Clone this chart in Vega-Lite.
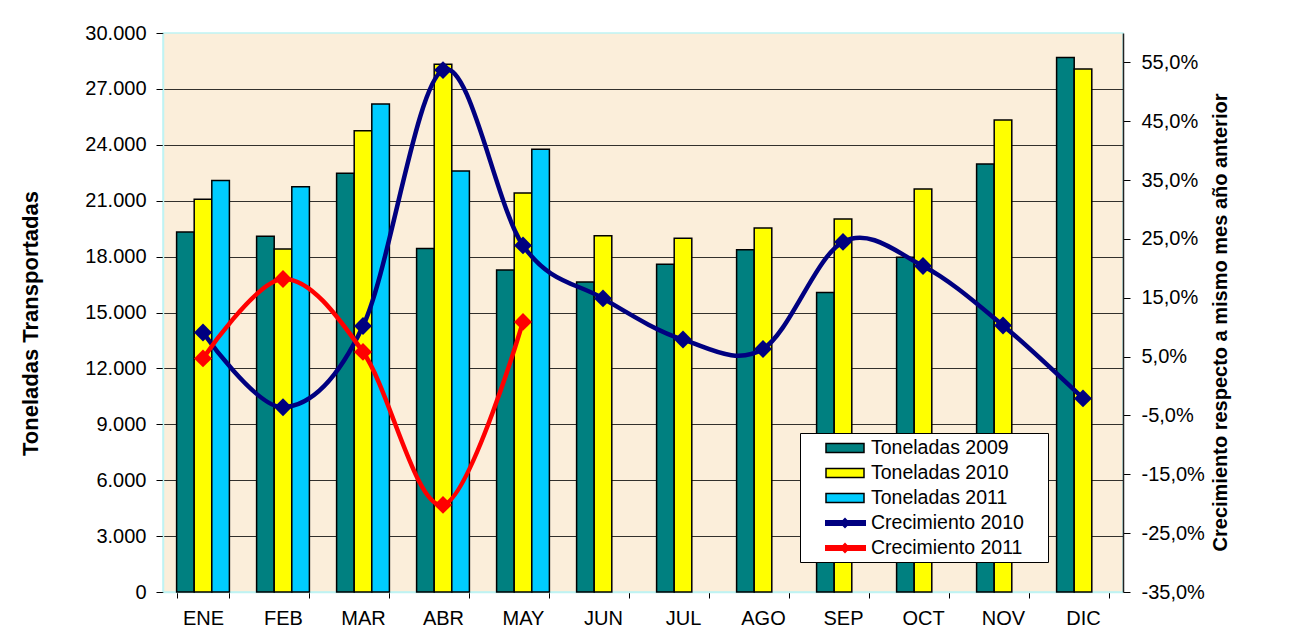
{
  "$schema": "https://vega.github.io/schema/vega-lite/v6.json",
  "width": 960,
  "height": 559,
  "autosize": {"type": "none"},
  "padding": {"left": 163, "top": 33, "right": 178, "bottom": 51},
  "background": "white",
  "config": {
    "font": "Liberation Sans",
    "view": {"fill": "#FBEEDA", "stroke": "#BFF3F3", "strokeWidth": 1.5},
    "axis": {"labelFont": "Liberation Sans", "labelFontSize": 20, "labelColor": "black", "titleFont": "Liberation Sans", "titleColor": "black"}
  },
  "data": {
    "values": [
      {"mes": "ENE", "serie": "Toneladas 2009", "valor": 19320},
      {"mes": "FEB", "serie": "Toneladas 2009", "valor": 19090},
      {"mes": "MAR", "serie": "Toneladas 2009", "valor": 22470},
      {"mes": "ABR", "serie": "Toneladas 2009", "valor": 18430},
      {"mes": "MAY", "serie": "Toneladas 2009", "valor": 17280},
      {"mes": "JUN", "serie": "Toneladas 2009", "valor": 16640},
      {"mes": "JUL", "serie": "Toneladas 2009", "valor": 17590},
      {"mes": "AGO", "serie": "Toneladas 2009", "valor": 18370},
      {"mes": "SEP", "serie": "Toneladas 2009", "valor": 16080},
      {"mes": "OCT", "serie": "Toneladas 2009", "valor": 17960},
      {"mes": "NOV", "serie": "Toneladas 2009", "valor": 22970},
      {"mes": "DIC", "serie": "Toneladas 2009", "valor": 28680},
      {"mes": "ENE", "serie": "Toneladas 2010", "valor": 21080},
      {"mes": "FEB", "serie": "Toneladas 2010", "valor": 18410},
      {"mes": "MAR", "serie": "Toneladas 2010", "valor": 24760},
      {"mes": "ABR", "serie": "Toneladas 2010", "valor": 28320},
      {"mes": "MAY", "serie": "Toneladas 2010", "valor": 21410},
      {"mes": "JUN", "serie": "Toneladas 2010", "valor": 19120},
      {"mes": "JUL", "serie": "Toneladas 2010", "valor": 18980},
      {"mes": "AGO", "serie": "Toneladas 2010", "valor": 19540},
      {"mes": "SEP", "serie": "Toneladas 2010", "valor": 20020},
      {"mes": "OCT", "serie": "Toneladas 2010", "valor": 21630},
      {"mes": "NOV", "serie": "Toneladas 2010", "valor": 25330},
      {"mes": "DIC", "serie": "Toneladas 2010", "valor": 28070},
      {"mes": "ENE", "serie": "Toneladas 2011", "valor": 22080},
      {"mes": "FEB", "serie": "Toneladas 2011", "valor": 21750},
      {"mes": "MAR", "serie": "Toneladas 2011", "valor": 26190},
      {"mes": "ABR", "serie": "Toneladas 2011", "valor": 22600},
      {"mes": "MAY", "serie": "Toneladas 2011", "valor": 23760},
      {"mes": "ENE", "serie": "Crecimiento 2010", "valor": 0.091},
      {"mes": "FEB", "serie": "Crecimiento 2010", "valor": -0.036},
      {"mes": "MAR", "serie": "Crecimiento 2010", "valor": 0.102},
      {"mes": "ABR", "serie": "Crecimiento 2010", "valor": 0.537},
      {"mes": "MAY", "serie": "Crecimiento 2010", "valor": 0.239},
      {"mes": "JUN", "serie": "Crecimiento 2010", "valor": 0.149},
      {"mes": "JUL", "serie": "Crecimiento 2010", "valor": 0.079},
      {"mes": "AGO", "serie": "Crecimiento 2010", "valor": 0.063},
      {"mes": "SEP", "serie": "Crecimiento 2010", "valor": 0.245},
      {"mes": "OCT", "serie": "Crecimiento 2010", "valor": 0.204},
      {"mes": "NOV", "serie": "Crecimiento 2010", "valor": 0.103},
      {"mes": "DIC", "serie": "Crecimiento 2010", "valor": -0.021},
      {"mes": "ENE", "serie": "Crecimiento 2011", "valor": 0.047},
      {"mes": "FEB", "serie": "Crecimiento 2011", "valor": 0.182},
      {"mes": "MAR", "serie": "Crecimiento 2011", "valor": 0.058},
      {"mes": "ABR", "serie": "Crecimiento 2011", "valor": -0.202},
      {"mes": "MAY", "serie": "Crecimiento 2011", "valor": 0.109}
    ]
  },
  "encoding": {
    "x": {
      "field": "mes", "type": "nominal",
      "sort": ["ENE", "FEB", "MAR", "ABR", "MAY", "JUN", "JUL", "AGO", "SEP", "OCT", "NOV", "DIC"],
      "scale": {"paddingInner": 0.34, "paddingOuter": 0.17},
      "axis": {"title": null, "labelAngle": 0, "tickBand": "extent", "tickColor": "black", "tickSize": 6, "domainColor": "#BFF3F3", "domainWidth": 1.5, "labelPadding": 10, "grid": false}
    }
  },
  "layer": [
    {
      "transform": [{"filter": "indexof(datum.serie, 'Toneladas') === 0"}],
      "mark": {"type": "bar", "stroke": "black", "strokeWidth": 1.5},
      "encoding": {
        "xOffset": {
          "field": "serie", "type": "nominal",
          "scale": {"domain": ["Toneladas 2009", "Toneladas 2010", "Toneladas 2011"], "paddingInner": 0, "paddingOuter": 0}
        },
        "y": {
          "field": "valor", "type": "quantitative",
          "scale": {"domain": [0, 30000], "nice": false},
          "axis": {
            "title": "Toneladas Transportadas", "titleFontSize": 22, "titleFontWeight": "bold", "titlePadding": 42, "titleY": 290,
            "values": [0, 3000, 6000, 9000, 12000, 15000, 18000, 21000, 24000, 27000, 30000],
            "labelExpr": "replace(format(datum.value, ','), ',', '.')",
            "tickSize": 7, "tickColor": "black", "domainColor": "#BFF3F3", "domainWidth": 1.5, "labelPadding": 10,
            "grid": true,
            "gridColor": {"condition": {"test": "datum.value === 30000 || datum.value === 0", "value": "rgba(0,0,0,0)"}, "value": "black"},
            "gridOpacity": 0.8
          }
        },
        "color": {
          "field": "serie", "type": "nominal",
          "scale": {
            "domain": ["Toneladas 2009", "Toneladas 2010", "Toneladas 2011", "Crecimiento 2010", "Crecimiento 2011"],
            "range": ["#008080", "#FFFF00", "#00CCFF", "#000080", "#FF0000"]
          },
          "legend": {
            "orient": "none", "legendX": 637, "legendY": 400, "title": null,
            "fillColor": "white", "strokeColor": "black", "padding": 4,
            "labelFont": "Liberation Sans", "labelFontSize": 19.5, "labelColor": "black",
            "symbolSize": 400, "labelOffset": 45, "rowPadding": 4,
            "symbolStrokeWidth": 1.5, "symbolOpacity": 1,
            "symbolType": {"expr": "indexof(datum.value, 'Crec') === 0 ? 'M1,-0.3L2.76,-0.3L3,-0.55L3.24,-0.3L5.1,-0.3L5.1,0.3L3.24,0.3L3,0.55L2.76,0.3L1,0.3Z M22.6,0L22.6,0' : 'M1.1,-0.45L4.9,-0.45L4.9,0.45L1.1,0.45Z M22.6,0L22.6,0'"},
            "symbolStrokeColor": {"expr": "indexof(datum.value, 'Crec') === 0 ? 'transparent' : 'black'"}
          }
        }
      }
    },
    {
      "transform": [{"filter": "indexof(datum.serie, 'Crec') === 0"}],
      "mark": {"type": "line", "interpolate": "cardinal", "strokeWidth": 4.5},
      "encoding": {
        "y": {
          "field": "valor", "type": "quantitative",
          "scale": {"domain": [-0.35, 0.6], "nice": false, "zero": false},
          "axis": {
            "orient": "right",
            "title": "Crecimiento respecto a mismo mes año anterior", "titleFontSize": 20, "titleFontWeight": "bold", "titlePadding": 26, "titleAngle": -90, "titleY": 289,
            "values": [-0.35, -0.25, -0.15, -0.05, 0.05, 0.15, 0.25, 0.35, 0.45, 0.55],
            "labelExpr": "replace(replace(format(datum.value, '.1%'), '.', ','), '−', '-')",
            "tickSize": 7, "tickColor": "black", "domainColor": "#222222", "domainWidth": 1.5, "labelPadding": 11,
            "grid": false
          }
        },
        "stroke": {
          "field": "serie", "type": "nominal",
          "scale": {"domain": ["Crecimiento 2010", "Crecimiento 2011"], "range": ["#000080", "#FF0000"]},
          "legend": null
        }
      }
    },
    {
      "transform": [{"filter": "indexof(datum.serie, 'Crec') === 0"}],
      "mark": {"type": "point", "shape": "diamond", "size": 320, "filled": true, "opacity": 1, "strokeWidth": 0},
      "encoding": {
        "y": {"field": "valor", "type": "quantitative", "scale": {"domain": [-0.35, 0.6], "nice": false, "zero": false}, "axis": null},
        "fill": {
          "field": "serie", "type": "nominal",
          "scale": {"domain": ["Crecimiento 2010", "Crecimiento 2011"], "range": ["#000080", "#FF0000"]},
          "legend": null
        }
      }
    }
  ],
  "resolve": {"scale": {"y": "independent"}}
}
